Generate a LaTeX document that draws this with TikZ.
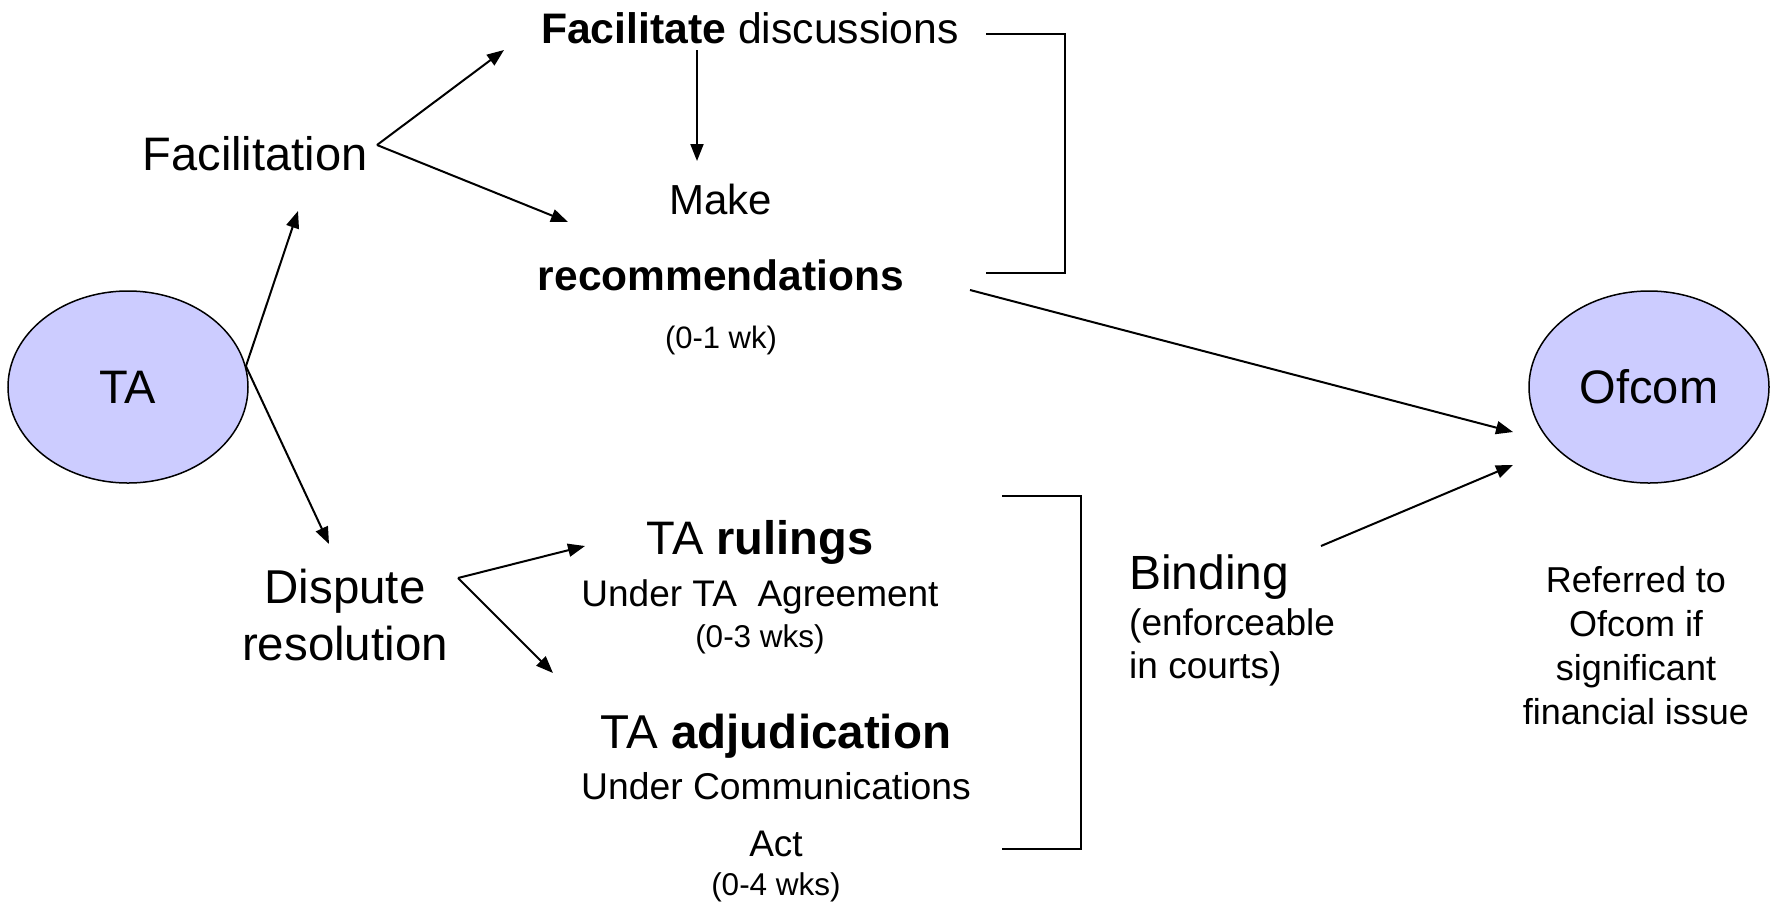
\documentclass[tikz,border=0pt]{standalone}
\usepackage{fontspec}
\setmainfont{Liberation Sans}
\usetikzlibrary{arrows.meta,shapes.geometric}
\newcommand{\fsz}[1]{\fontsize{#1}{#1}\selectfont}
\begin{document}
\begin{tikzpicture}[x=1pt,y=-1pt,
  arr/.style={line width=2pt,-{Triangle[length=17pt,width=13pt]}},
  brk/.style={line width=2pt},
  oval/.style={ellipse,draw=black,line width=1.5pt,fill=ovalfill,minimum width=240pt,minimum height=192pt,inner sep=0pt},
  txt/.style={inner sep=0pt,anchor=base}]
\definecolor{ovalfill}{HTML}{CCCCFF}
\useasboundingbox (0,0) rectangle (1777,903);
% ellipses
\node[oval,font=\fsz{47}] (TA) at (128,387) {TA};
\node[oval,font=\fsz{47}] (Ofcom) at (1649,387) {Ofcom};
% facilitation branch
\node[txt,font=\fsz{47}] (fac) at (255,170) {Facilitation};
\node[txt,font=\fsz{42.7}] (fd) at (750,43) {\textbf{Facilitate} discussions};
\node[txt,font=\fsz{42}] (make) at (721,214) {Make};
\node[txt,font=\fsz{42.5}] (rec) at (721,290) {\textbf{recommendations}};
\node[txt,font=\fsz{31}] (wk1) at (721,348) {(0-1 wk)};
% dispute branch
\node[txt,font=\fsz{47.5}] (disp) at (345,603) {Dispute};
\node[txt,font=\fsz{47.5}] (reso) at (345,660) {resolution};
\node[txt,font=\fsz{47}] (rul) at (760,554) {TA \textbf{rulings}};
\node[txt,font=\fsz{37}] (rul2) at (760,606) {Under TA\ \ Agreement};
\node[txt,font=\fsz{31.5}] (wk3) at (760,647) {(0-3 wks)};
\node[txt,font=\fsz{47.5}] (adj) at (776,748) {TA \textbf{adjudication}};
\node[txt,font=\fsz{37.3}] (adj2) at (776,799) {Under Communications};
\node[txt,font=\fsz{37}] (adj3) at (776,856) {Act};
\node[txt,font=\fsz{31.5}] (wk4) at (776,895) {(0-4 wks)};
% binding
\node[txt,anchor=base west,font=\fsz{48}] (bind) at (1129,589) {Binding};
\node[txt,anchor=base west,font=\fsz{37}] (bind2) at (1129,635) {(enforceable};
\node[txt,anchor=base west,font=\fsz{37}] (bind3) at (1129,678) {in courts)};
% referred
\node[txt,font=\fsz{36}] (ref1) at (1636,592) {Referred to};
\node[txt,font=\fsz{36}] (ref2) at (1636,636) {Ofcom if};
\node[txt,font=\fsz{36}] (ref3) at (1636,680) {significant};
\node[txt,font=\fsz{36}] (ref4) at (1636,724) {financial issue};
% connector coordinates
\coordinate (facIn) at (298,211);
\coordinate (dispIn) at (329,544);
\coordinate (facOut) at (377,145);
\coordinate (fdIn) at (504,50);
\coordinate (makeIn) at (568,222);
\coordinate (fdOut) at (697,50);
\coordinate (makeTop) at (697,161);
\coordinate (recOut) at (970,290);
\coordinate (ofIn1) at (1513,432);
\coordinate (bindOut) at (1321,546);
\coordinate (ofIn2) at (1513,465);
\coordinate (dispOut) at (458,578);
\coordinate (rulIn) at (585,546);
\coordinate (adjIn) at (553,673);
% connectors
\draw[arr] (TA.10) -- (facIn);
\draw[arr] (TA.10) -- (dispIn);
\draw[arr] (facOut) -- (fdIn);
\draw[arr] (facOut) -- (makeIn);
\draw[arr] (fdOut) -- (makeTop);
\draw[arr] (recOut) -- (ofIn1);
\draw[arr] (bindOut) -- (ofIn2);
\draw[arr] (dispOut) -- (rulIn);
\draw[arr] (dispOut) -- (adjIn);
% brackets
\draw[brk] (986,34) -- (1065,34) -- (1065,273) -- (986,273);
\draw[brk] (1002,496) -- (1081,496) -- (1081,849) -- (1002,849);
\end{tikzpicture}
\end{document}
